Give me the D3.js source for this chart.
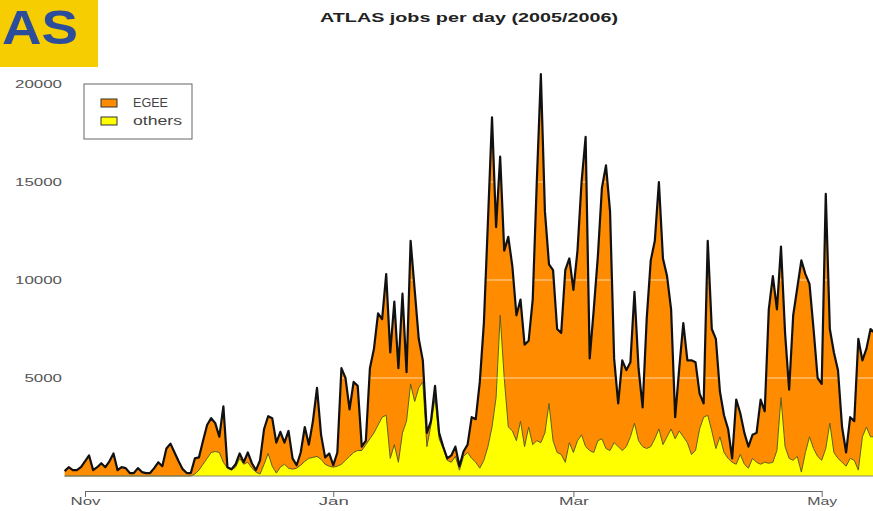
<!DOCTYPE html>
<html>
<head>
<meta charset="utf-8">
<script src="https://cdn.jsdelivr.net/npm/d3@7"></script>
<style>
  body { margin: 0; background: #fff; }
  text { font-family: "Liberation Sans", Arial, sans-serif; }
</style>
</head>
<body>
<div id="chart"></div>
<script>
// daily values, starting 27 Oct 2005
const others = [
    0, 0, 0, 0, 0, 0, 0, 0, 0, 0,
    0, 0, 0, 0, 0, 0, 0, 0, 0, 0,
    0, 0, 0, 0, 0, 0, 0, 0, 0, 0,
    0, 0,
    100, 300, 600, 900, 1200, 1250, 1200, 700,
    400, 300, 450, 900, 600, 700, 400, 200, 100, 600,
    1150, 500, 150, 450, 600, 400, 350, 400, 550, 750,
    900, 950, 1000, 850, 600, 500, 450, 500, 600, 800,
    1000, 1200, 1300, 1300, 1600, 1900, 2200, 2600, 3000, 3100,
    900, 1600, 700, 2200, 2800, 4700, 3800, 4500, 4800, 1500,
    2600, 4000, 1900, 1400, 800, 700, 1000, 300, 1000, 1200,
    900, 700, 400, 800, 1500, 2500, 4000, 8200, 5000, 2500,
    2300, 1800, 2800, 1500, 2500, 1600, 1800, 1700, 2200, 3700,
    1800, 1200, 1100, 700, 1700, 1200, 1800, 2100, 1500, 1300,
    1200, 1800, 1900, 1400, 1300, 1700, 1500, 1300, 1500, 2000,
    2700, 1800, 1500, 1400, 1500, 1900, 2400, 1600, 2000, 2400,
    1900, 2300, 2000, 1700, 1100, 1300, 2400, 3000, 3100, 2300,
    1400, 2000, 1200, 900, 700, 600, 1100, 600, 400, 900,
    700, 600, 700, 650, 700, 1300, 4000, 1500, 900, 800,
    1000, 200, 1200, 2000, 1400, 1000, 800, 1400, 2700, 1200,
    900, 700, 500, 900, 800, 300, 2000, 2500, 2000, 2000
];

const egee = [
    250, 450, 300, 300, 450, 750, 1050, 300, 450, 650,
    450, 750, 1150, 300, 450, 400, 150, 150, 400, 200,
    150, 150, 400, 700, 500, 1400, 1650, 1200, 750, 350,
    150, 150, 800, 650, 1200, 1700, 1750, 1450, 800, 2850,
    50, 50, 150, 250, 100, 500, 250, 100, 700, 1800,
    1900, 2450, 1550, 1800, 1100, 1900, 550, 150, 650, 1750,
    700, 1850, 3500, 1250, 350, 650, 100, 700, 4900, 4200,
    2400, 3600, 3300, 200, 200, 3600, 4300, 5700, 5000, 7200,
    5400, 7300, 4800, 7100, 2500, 7300, 5700, 2500, 1100, 700,
    200, 600, 300, 100, 100, 350, 500, 200, 250, 400,
    2100, 2200, 4400, 7000, 11500, 15800, 8700, 8100, 6500, 9700,
    8400, 6400, 6200, 5200, 4400, 7400, 13200, 18800, 11300, 7100,
    8700, 6300, 6200, 9800, 9400, 8300, 9700, 12900, 15800, 4700,
    7300, 9400, 12800, 14450, 12200, 4300, 2200, 4600, 3900, 3800,
    6700, 3700, 2000, 6600, 9500, 10100, 12600, 9500, 8200, 6100,
    1100, 3200, 5800, 4200, 4800, 4500, 1800, 700, 8900, 5200,
    5600, 2300, 1900, 1500, 200, 3300, 2100, 1600, 1100, 1200,
    1500, 3300, 2600, 7850, 9500, 7200, 7700, 5800, 3500, 7400,
    8600, 10800, 9100, 7800, 6100, 4000, 3900, 13000, 4800, 5100,
    4500, 1800, 700, 2100, 2000, 6700, 3900, 4000, 5500, 5300
];

const yTicks = [5000, 10000, 15000, 20000];
const monthTicks = [new Date(Date.UTC(2005, 10, 1)), new Date(Date.UTC(2006, 0, 1)),
                    new Date(Date.UTC(2006, 2, 1)), new Date(Date.UTC(2006, 4, 1))];
const seriesNames = ["EGEE", "others"];

const startDay = new Date(Date.UTC(2005, 9, 27));
const dates = d3.utcDay.range(startDay, d3.utcDay.offset(startDay, egee.length));
const table = dates.map((d, i) => ({ date: d, others: others[i], egee: egee[i] }));

const width = 873, height = 511;

const svg = d3.select("#chart")
    .append("svg")
    .attr("width", width)
    .attr("height", height);

const x = d3.scaleUtc()
    .domain([monthTicks[0], monthTicks[3]])
    .range([85, 821.7]);

const y = d3.scaleLinear()
    .domain([0, 20000])
    .range([476, 84]);

const stack = d3.stack().keys(["others", "egee"]);
const series = stack(table);

const area = d3.area()
    .x(d => x(d.data.date))
    .y0(d => y(d[0]))
    .y1(d => y(d[1]));

const topLine = d3.line()
    .x(d => x(d.data.date))
    .y(d => y(d[1]));

const plot = svg.append("g");

// EGEE on top, others underneath
plot.append("path")
    .datum(series[1])
    .attr("d", area)
    .attr("fill", "#ff8c00");

plot.append("path")
    .datum(series[0])
    .attr("d", area.y0(y(0)))
    .attr("fill", "#ffff00");

plot.append("path")
    .datum(series[0])
    .attr("d", topLine)
    .attr("fill", "none")
    .attr("stroke", "#5c5a1e")
    .attr("stroke-width", 1);

// faint white grid over the areas
plot.selectAll(".grid")
    .data(yTicks.slice(0, 3))
    .enter()
    .append("line")
    .attr("x1", x(dates[0]))
    .attr("x2", width)
    .attr("y1", d => y(d))
    .attr("y2", d => y(d))
    .attr("stroke", "#fff")
    .attr("stroke-opacity", 0.65)
    .attr("stroke-width", 1);

plot.append("path")
    .datum(series[1])
    .attr("d", topLine)
    .attr("fill", "none")
    .attr("stroke", "#111")
    .attr("stroke-width", 2.2)
    .attr("stroke-linejoin", "round");

plot.append("line")
    .attr("x1", x(dates[0]))
    .attr("x2", width)
    .attr("y1", y(0))
    .attr("y2", y(0))
    .attr("stroke", "#8a8a6a")
    .attr("stroke-width", 1.2);

// axes
const yAxis = svg.append("g")
    .attr("transform", "translate(62,0)")
    .call(d3.axisLeft(y).tickValues(yTicks).tickFormat(d3.format("d")).tickSize(0).tickPadding(0));
yAxis.select(".domain").remove();
yAxis.selectAll("text")
    .attr("font-size", 11)
    .attr("font-family", "Liberation Sans, Arial, sans-serif")
    .attr("fill", "#555")
    .attr("textLength", d => String(d).length * 9.4)
    .attr("lengthAdjust", "spacingAndGlyphs");

const xAxis = svg.append("g")
    .attr("transform", "translate(0,491)")
    .call(d3.axisBottom(x).tickValues(monthTicks).tickFormat(d3.utcFormat("%b"))
        .tickSizeInner(6).tickSizeOuter(0).tickPadding(0));
xAxis.select(".domain").attr("stroke", "#666");
xAxis.selectAll(".tick line").attr("stroke", "#666");
xAxis.selectAll("text")
    .attr("font-size", 11)
    .attr("font-family", "Liberation Sans, Arial, sans-serif")
    .attr("fill", "#555")
    .attr("textLength", 30)
    .attr("lengthAdjust", "spacingAndGlyphs");

// title
svg.append("text")
    .attr("x", 469)
    .attr("y", 22)
    .attr("text-anchor", "middle")
    .attr("font-size", 12.5)
    .attr("font-weight", "bold")
    .attr("fill", "#222")
    .attr("textLength", 298)
    .attr("lengthAdjust", "spacingAndGlyphs")
    .text("ATLAS jobs per day (2005/2006)");

// logo corner (only the tail of the logo is visible)
svg.append("rect")
    .attr("x", 0).attr("y", 0)
    .attr("width", 98).attr("height", 67)
    .attr("fill", "#f5cd00");
svg.append("text")
    .attr("x", 78)
    .attr("y", 44)
    .attr("text-anchor", "end")
    .attr("font-size", 48)
    .attr("font-weight", "bold")
    .attr("fill", "#2b4d9c")
    .attr("textLength", 76)
    .attr("lengthAdjust", "spacingAndGlyphs")
    .text("AS");

// legend
const legend = svg.append("g").attr("transform", "translate(84,84)");
legend.append("rect")
    .attr("width", 108).attr("height", 55)
    .attr("fill", "#fff")
    .attr("stroke", "#666");
const legendColors = ["#ff8c00", "#ffff00"];
legend.selectAll(".sw")
    .data(seriesNames)
    .enter()
    .append("rect")
    .attr("x", 17)
    .attr("y", (d, i) => 15 + i * 18)
    .attr("width", 16).attr("height", 8)
    .attr("fill", (d, i) => legendColors[i])
    .attr("stroke", "#333");
legend.selectAll(".lab")
    .data(seriesNames)
    .enter()
    .append("text")
    .attr("x", 49)
    .attr("y", (d, i) => 23 + i * 18)
    .attr("font-size", 12)
    .attr("fill", "#444")
    .attr("textLength", d => d === "EGEE" ? 35 : 49)
    .attr("lengthAdjust", "spacingAndGlyphs")
    .text(d => d);
</script>
</body>
</html>
